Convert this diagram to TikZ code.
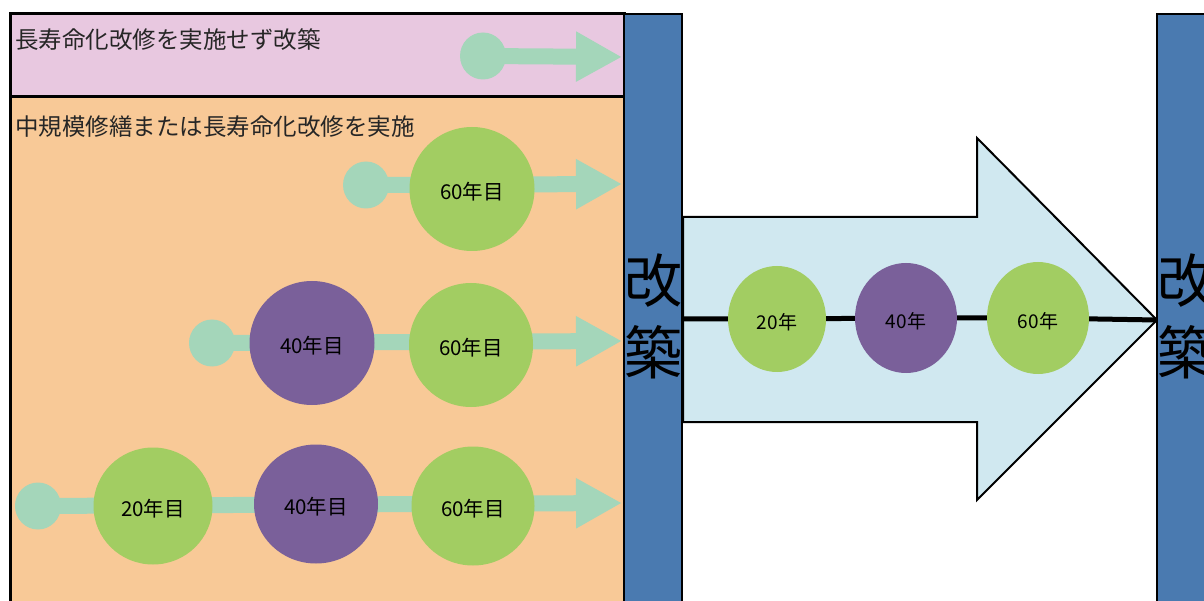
\documentclass[tikz,border=0pt]{standalone}
\usepackage{fontspec}
\setmainfont{Noto Sans CJK JP}
\usetikzlibrary{shapes.geometric,arrows.meta}
\pgfdeclarelayer{back}
\pgfdeclarelayer{mid}
\pgfsetlayers{back,mid,main}
\definecolor{pinkbg}{RGB}{232,200,224}
\definecolor{orangebg}{RGB}{248,201,151}
\definecolor{leaf}{RGB}{162,205,98}
\definecolor{plum}{RGB}{122,96,154}
\definecolor{mint}{RGB}{164,214,186}
\definecolor{barblue}{RGB}{74,122,176}
\definecolor{skyfill}{RGB}{208,232,240}
\newcommand\ballLabel[1]{\raisebox{-3pt}[\height][\depth]{#1}}
\begin{document}
\begin{tikzpicture}[x=1pt,y=-1pt,
  dot/.style={ellipse,fill=mint,inner sep=0pt,minimum width=46pt,minimum height=47pt},
  greenball/.style={ellipse,fill=leaf,inner sep=0pt,font=\fontsize{20.5}{24}\selectfont},
  purpleball/.style={ellipse,fill=plum,inner sep=0pt,font=\fontsize{20.5}{24}\selectfont},
  mintarrow/.style={draw=mint,line width=16pt,-{Triangle[length=46pt,width=47pt]}},
  heading/.style={anchor=west,inner sep=0pt,text=black!85,font=\fontsize{23.5}{26}\selectfont},
  bartext/.style={inner sep=0pt,align=center,font=\fontsize{58}{72}\selectfont},
  outline/.style={draw=black,line width=3pt}
]
\useasboundingbox (0,0) rectangle (1204,601);
\clip (0,0) rectangle (1204,601);

% ---------- background panels ----------
\begin{pgfonlayer}{back}
  \fill[pinkbg] (10,14) rectangle (624,97);
  \fill[orangebg] (10,97) rectangle (624,640);
  \draw[outline] (10,14) rectangle (624,640);
  \draw[outline] (10,97) -- (624,97);
  % big arrow
  \draw[fill=skyfill,line width=2pt,line join=miter]
    (683,217) -- (977,217) -- (977,138) -- (1157,320) -- (977,500) -- (977,422) -- (683,422) -- cycle;
  % blue bars
  \draw[fill=barblue,line width=2.5pt] (624,14) rectangle (682,640);
  \draw[fill=barblue,line width=2.5pt] (1157,14) rectangle (1215,640);
\end{pgfonlayer}

\node[bartext] (kaichiku1) at (653,316) {改\\築};
\node[bartext] (kaichiku2) at (1186,316) {改\\築};

% ---------- headings ----------
\node[heading] (h1) at (15,40) {長寿命化改修を実施せず改築};
\node[heading] (h2) at (15,127) {中規模修繕または長寿命化改修を実施};

% ---------- pink row ----------
\node[dot] (p0) at (483,56) {};
\coordinate (pt) at (622,57);

% ---------- row 1 ----------
\node[dot] (r1s) at (366,185) {};
\node[greenball,minimum width=125pt,minimum height=124pt] (r1c) at (472,189) {\ballLabel{60年目}};
\coordinate (r1t) at (622,184);

% ---------- row 2 ----------
\node[dot] (r2s) at (212,343) {};
\node[purpleball,minimum width=125pt,minimum height=124pt] (r2a) at (312,343) {\ballLabel{40年目}};
\node[greenball,minimum width=124pt,minimum height=124pt] (r2b) at (471,345) {\ballLabel{60年目}};
\coordinate (r2t) at (622,341);

% ---------- row 3 ----------
\node[dot] (r3s) at (38,506) {};
\node[greenball,minimum width=119pt,minimum height=117pt] (r3a) at (153,506) {\ballLabel{20年目}};
\node[purpleball,minimum width=124pt,minimum height=119pt] (r3b) at (316,504) {\ballLabel{40年目}};
\node[greenball,minimum width=123pt,minimum height=119pt] (r3c) at (473,506) {\ballLabel{60年目}};
\coordinate (r3t) at (622,503);

% ---------- mint arrows ----------
\begin{pgfonlayer}{mid}
  \draw[mintarrow] (p0.center) -- (pt);
  \draw[mintarrow] (r1s.center) -- (r1t);
  \draw[mintarrow] (r2s.center) -- (r2t);
  \draw[mintarrow] (r3s.center) -- (r3t);
\end{pgfonlayer}

% ---------- centre arrow contents ----------
\node[greenball,minimum width=98pt,minimum height=106pt,font=\fontsize{19}{22}\selectfont] (c20) at (777,319) {\ballLabel{20年}};
\node[purpleball,minimum width=102pt,minimum height=110pt,font=\fontsize{19}{22}\selectfont] (c40) at (906,318) {\ballLabel{40年}};
\node[greenball,minimum width=102pt,minimum height=112pt,font=\fontsize{19}{22}\selectfont] (c60) at (1038,318) {\ballLabel{60年}};
\coordinate (lstart) at (683,319);
\coordinate (atip) at (1157,320);
\begin{pgfonlayer}{mid}
  \draw[line width=5pt] (lstart) -- (c20) -- (c40) -- (c60) -- (atip);
\end{pgfonlayer}
\end{tikzpicture}
\end{document}
